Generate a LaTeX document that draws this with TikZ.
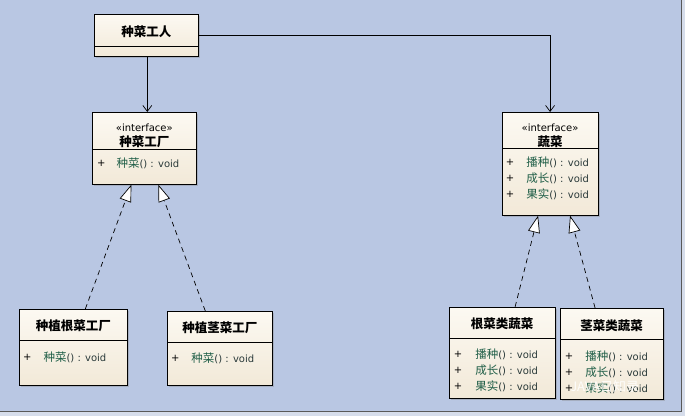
\documentclass[tikz,border=0pt]{standalone}
\usepackage{fontspec}
\setmainfont{DejaVu Sans}
\newfontfamily\cjk{Noto Sans CJK SC}
\usetikzlibrary{arrows.meta,shadows}
\definecolor{bgblue}{HTML}{B9C7E3}
\definecolor{outerbg}{HTML}{D6DDEB}
\definecolor{boxtop}{HTML}{FCF9F2}
\definecolor{boxbot}{HTML}{F2E9D8}
\definecolor{mgreen}{HTML}{1F5E47}
\definecolor{mtext}{HTML}{2A3A3A}
\begin{document}
\begin{tikzpicture}[x=1pt,y=-1pt,
  cls/.style={draw=black,line width=0.7pt,top color=boxtop,bottom color=boxbot,inner sep=0pt,
    drop shadow={shadow xshift=2pt,shadow yshift=-2pt,opacity=0.35}},
  ttl/.style={font=\cjk\bfseries\fontsize{12.5}{14}\selectfont,inner sep=0pt,anchor=center},
  ster/.style={font=\fontsize{10}{12}\selectfont,inner sep=0pt,anchor=center},
  row/.style={font=\fontsize{10}{12}\selectfont,inner sep=0pt,anchor=west,text=mtext},
  plus/.style={font=\fontsize{10}{12}\selectfont,inner sep=0pt,anchor=center},
  assoc/.style={draw=black,line width=0.7pt,-{Straight Barb[length=6pt,width=9pt,line width=0.7pt]}},
  real/.style={draw=black,line width=0.7pt,dash pattern=on 5pt off 4pt,
    -{Triangle[length=17pt,width=12pt,fill=white,line width=0.7pt]}},
  wm/.style={font=\cjk\fontsize{13}{15}\selectfont,text=white,opacity=0.85,inner sep=0pt}
]
\newcommand{\mrow}[1]{{\cjk\fontsize{11.5}{12}\selectfont\textcolor{mgreen}{#1}}() : void}
% background
\fill[outerbg] (0,0) rectangle (685,416);
\fill[bgblue] (0,0) rectangle (681,411);
\draw[black!65,line width=0.8pt] (681,0) -- (681,411) -- (0,411);
\useasboundingbox (0,0) rectangle (685,416);

% 种菜工人
\node[cls,minimum width=104pt,minimum height=42pt] (worker) at (146,35) {};
\draw[line width=0.7pt] (94,46) -- (198,46);
\node[ttl] (workerT) at (146,31) {种菜工人};

% 种菜工厂
\node[cls,minimum width=104pt,minimum height=72pt] (fac) at (144,148) {};
\draw[line width=0.7pt] (92,149) -- (196,149);
\node[ster] (facS) at (144,127) {«interface»};
\node[ttl] (facT) at (144,141) {种菜工厂};
\node[plus] (facP) at (101,163) {+};
\node[row] (facR) at (116,163) {\mrow{种菜}};

% 蔬菜
\node[cls,minimum width=96pt,minimum height=103pt] (veg) at (550,163.5) {};
\draw[line width=0.7pt] (502,148) -- (598,148);
\node[ster] (vegS) at (550,127) {«interface»};
\node[ttl] (vegT) at (550,141) {蔬菜};
\node[plus] (vegP1) at (510,162) {+};
\node[plus] (vegP2) at (510,178) {+};
\node[plus] (vegP3) at (510,194) {+};
\node[row] (vegR1) at (526,162) {\mrow{播种}};
\node[row] (vegR2) at (526,178) {\mrow{成长}};
\node[row] (vegR3) at (526,194) {\mrow{果实}};

% 种植根菜工厂
\node[cls,minimum width=108pt,minimum height=76pt] (rootfac) at (73,347) {};
\draw[line width=0.7pt] (19,340) -- (127,340);
\node[ttl] (rootfacT) at (73,326) {种植根菜工厂};
\node[plus] (rootfacP) at (27,357) {+};
\node[row] (rootfacR) at (43,357) {\mrow{种菜}};

% 种植茎菜工厂
\node[cls,minimum width=105pt,minimum height=74pt] (stemfac) at (219.5,348) {};
\draw[line width=0.7pt] (167,342) -- (272,342);
\node[ttl] (stemfacT) at (219.5,328) {种植茎菜工厂};
\node[plus] (stemfacP) at (175,358) {+};
\node[row] (stemfacR) at (191,358) {\mrow{种菜}};

% 根菜类蔬菜
\node[cls,minimum width=106pt,minimum height=91pt] (rootveg) at (502,352.5) {};
\draw[line width=0.7pt] (449,338) -- (555,338);
\node[ttl] (rootvegT) at (502,324) {根菜类蔬菜};
\node[plus] (rootvegP1) at (458,354) {+};
\node[plus] (rootvegP2) at (458,370) {+};
\node[plus] (rootvegP3) at (458,386) {+};
\node[row] (rootvegR1) at (475,354) {\mrow{播种}};
\node[row] (rootvegR2) at (475,370) {\mrow{成长}};
\node[row] (rootvegR3) at (475,386) {\mrow{果实}};

% 茎菜类蔬菜
\node[cls,minimum width=103pt,minimum height=91pt] (stemveg) at (611.5,353.5) {};
\draw[line width=0.7pt] (560,339) -- (663,339);
\node[ttl] (stemvegT) at (611.5,326) {茎菜类蔬菜};
\node[plus] (stemvegP1) at (569,356) {+};
\node[plus] (stemvegP2) at (569,372) {+};
\node[plus] (stemvegP3) at (569,388) {+};
\node[row] (stemvegR1) at (585,356) {\mrow{播种}};
\node[row] (stemvegR2) at (585,372) {\mrow{成长}};
\node[row] (stemvegR3) at (585,388) {\mrow{果实}};

% associations
\draw[assoc] ([xshift=1pt]worker.south) -- ([xshift=3pt]fac.north);
\coordinate (bend) at (veg.north |- worker.east);
\draw[assoc] (worker.east) -- (bend) -- (veg.north);

% realizations
\draw[real] ([xshift=12pt]rootfac.north) -- ([xshift=-13pt]fac.south);
\draw[real] ([xshift=-14.5pt]stemfac.north) -- ([xshift=14pt]fac.south);
\draw[real] ([xshift=13pt]rootveg.north) -- ([xshift=-12pt]veg.south);
\draw[real] ([xshift=-16.5pt]stemveg.north) -- ([xshift=20pt]veg.south);

% watermark
\node[wm,anchor=west] (wmark) at (570,386) {JAVA日知录};
\end{tikzpicture}
\end{document}
